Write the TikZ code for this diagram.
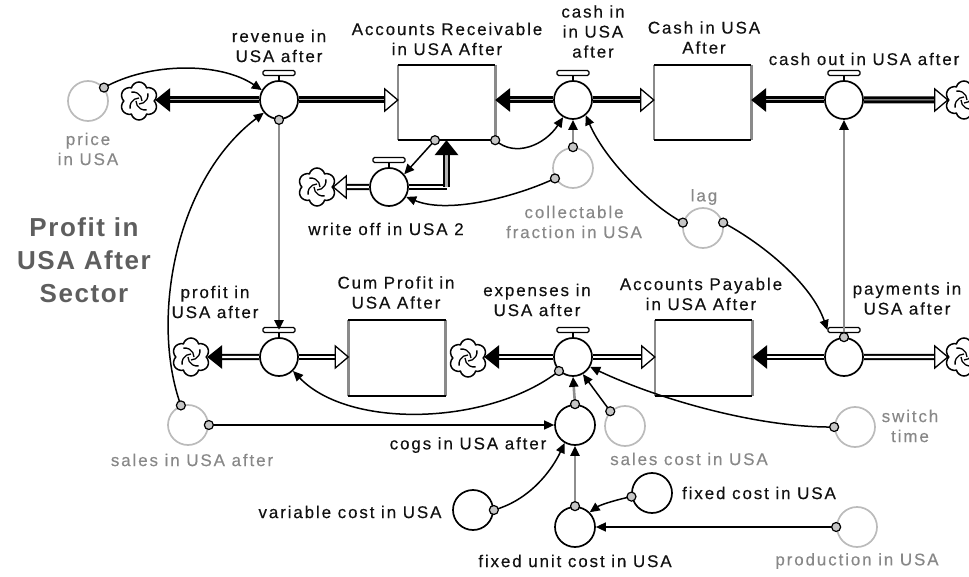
\documentclass[tikz,border=0pt]{standalone}
\usepackage{fontspec}
\setmainfont{Liberation Sans}[LetterSpace=11, FakeBold=0.35]
\newfontfamily\sectorfont{Liberation Sans}[LetterSpace=6]
\usetikzlibrary{shapes.symbols,arrows.meta,calc,backgrounds}

\definecolor{ink}{HTML}{111111}
\definecolor{dimtext}{HTML}{888888}
\definecolor{dimring}{HTML}{BBBBBB}
\definecolor{linkgray}{HTML}{8E8E8E}
\definecolor{stockside}{HTML}{8A8A8A}
\definecolor{sectorgray}{HTML}{5E5E5E}

\tikzset{
  lbl/.style={font=\fontsize{17}{20}\selectfont, text=ink, align=center, inner sep=0pt},
  glbl/.style={lbl, text=dimtext},
  valve/.style={circle, draw=black, line width=1.7pt, fill=white, minimum size=38pt, inner sep=0pt},
  valvebar/.style={rectangle, rounded corners=1.5pt, draw=black, line width=1.3pt, fill=white,
    minimum width=32pt, minimum height=5pt, inner sep=0pt},
  conv/.style={circle, draw=black, line width=1.7pt, fill=white, minimum size=40pt, inner sep=0pt},
  gconv/.style={conv, draw=dimring},
  stock/.style={rectangle, fill=white, minimum width=97pt, minimum height=75pt, inner sep=0pt},
  source/.style={cloud, cloud puffs=6, aspect=1, draw=black, line width=1.5pt, fill=white,
    minimum width=38pt, minimum height=38pt, inner sep=0pt,
    path picture={
      \foreach \a in {0,90,180,270}
        \draw[line width=1.3pt] ([shift={(\a:3pt)}]path picture bounding box.center)
          arc[start angle=\a, end angle=\a+100, radius=9pt];
    }},
  hpipe/.style={draw=black, line width=3pt, double=gray!55, double distance=1pt},
  lpipe/.style={draw=black, line width=2pt, double=white, double distance=2.2pt},
  link/.style={draw=black, line width=1.5pt, -{Triangle[length=10pt,width=9pt]}},
  glink/.style={draw=linkgray, line width=2.6pt, -{Triangle[length=10pt,width=9pt,color=black]}},
  tail/.style={circle, draw=black, line width=1.2pt, fill=gray!45, minimum size=9pt, inner sep=0pt},
  fullhead/.pic={\fill[black] (0,0) -- (-15,12) -- (-15,-12) -- cycle;},
  openhead/.pic={\filldraw[fill=white, draw=black, line width=1.3pt, line join=miter]
    (0,0) -- (-13,11) -- (-13,-11) -- cycle;},
}

\begin{document}
\begin{tikzpicture}[x=1pt,y=-1pt]
\useasboundingbox (0,0) rectangle (969,577);

% ---------- stocks ----------
\node[stock] (AR)   at (446.5,102.5) {};
\node[stock] (Cash) at (702.5,102.5) {};
\node[stock] (Cum)  at (397,358) {};
\node[stock] (AP)   at (703.5,358) {};
\foreach \s in {AR,Cash,Cum,AP}{
  \draw[stockside, line width=2.6pt] (\s.north west) -- (\s.south west);
  \draw[stockside, line width=2.6pt] (\s.north east) -- (\s.south east);
  \draw[black, line width=2pt] (\s.north west) -- (\s.north east);
  \draw[black, line width=2pt] (\s.south west) -- (\s.south east);
}

% ---------- flow valves ----------
\node[valve] (rev)  at (279,100) {};
\node[valve] (cin)  at (573,100) {};
\node[valve] (cout) at (844,100) {};
\node[valve] (wo)   at (389,187) {};
\node[valve] (prof) at (279,357) {};
\node[valve] (exp)  at (573,357) {};
\node[valve] (pay)  at (844,357) {};
\foreach \v in {rev,cin,cout,wo,prof,exp,pay}{
  \draw[line width=1.3pt] (\v.north) -- ++(0,-5);
  \node[valvebar, anchor=south] (bar-\v) at ([yshift=4pt]\v.north) {};
}

% ---------- sources and sinks ----------
\node[source] (c1) at (139,101) {};
\node[source] (c2) at (964,100) {};
\node[source] (c3) at (317,187) {};
\node[source] (c4) at (191,357) {};
\node[source] (c5) at (468,358) {};
\node[source] (c6) at (964,357) {};

% ---------- converters ----------
\node[gconv] (price)     at (88,101)  {};
\node[gconv] (coll)      at (573,168) {};
\node[gconv] (lag)       at (703,228) {};
\node[gconv] (sales)     at (188,425) {};
\node[conv]  (cogs)      at (575,425) {};
\node[gconv] (salescost) at (625,426) {};
\node[gconv] (switch)    at (855,427) {};
\node[conv]  (varc)      at (473,510) {};
\node[conv]  (fixc)      at (652,493) {};
\node[conv]  (fuc)       at (575,527) {};
\node[gconv] (prod)      at (857,527) {};

% ---------- pipes ----------
\begin{scope}[on background layer]
  \draw[hpipe, shorten >=12pt] (rev.west) -- (rev.west -| c1.east);
  \draw[hpipe, shorten >=10pt] (rev.east) -- (rev.east -| AR.west);
  \draw[hpipe, shorten >=12pt] (cin.west) -- (cin.west -| AR.east);
  \draw[hpipe, shorten >=10pt] (cin.east) -- (cin.east -| Cash.west);
  \draw[hpipe, shorten >=12pt] (cout.west) -- (cout.west -| Cash.east);
  \draw[hpipe, shorten >=10pt] (cout.east) -- (c2.west);
  \draw[lpipe, shorten >=10pt] (wo.west) -- (c3.east);
  \draw[lpipe] (wo.east) -- (wo.east -| AR.south);
  \draw[draw=black, line width=2pt, double=gray!60, double distance=2.2pt, shorten >=12pt]
    (wo.east -| AR.south) -- (AR.south);
  \draw[lpipe, shorten >=12pt] (prof.west) -- (c4.east);
  \draw[lpipe, shorten >=10pt] (prof.east) -- (prof.east -| Cum.west);
  \draw[lpipe, shorten >=12pt] (exp.west) -- (exp.west -| c5.east);
  \draw[lpipe, shorten >=10pt] (exp.east) -- (exp.east -| AP.west);
  \draw[lpipe, shorten >=12pt] (pay.west) -- (pay.west -| AP.east);
  \draw[lpipe, shorten >=10pt] (pay.east) -- (c6.west);
\end{scope}

% ---------- flow arrowheads ----------
\pic[rotate=180] at (rev.west -| c1.east) {fullhead};
\pic at (rev.east -| AR.west) {openhead};
\pic[rotate=180] at (cin.west -| AR.east) {fullhead};
\pic at (cin.east -| Cash.west) {openhead};
\pic[rotate=180] at (cout.west -| Cash.east) {fullhead};
\pic at (c2.west) {openhead};
\pic[rotate=180] at (c3.east) {openhead};
\pic[rotate=90] at (AR.south) {fullhead};
\pic[rotate=180] at (c4.east) {fullhead};
\pic at (prof.east -| Cum.west) {openhead};
\pic[rotate=180] at (exp.west -| c5.east) {fullhead};
\pic at (exp.east -| AP.west) {openhead};
\pic[rotate=180] at (pay.west -| AP.east) {fullhead};
\pic at (c6.west) {openhead};

% ---------- connectors ----------
\draw[link] (price.40) .. controls (150,62) and (220,62) .. (rev.150);
\draw[link] (sales.110) .. controls (150,320) and (175,180) .. (rev.220);
\draw[glink] (rev.south) -- (bar-prof.center);
\draw[link] (AR.-107) -- (wo.40);
\draw[link] (coll.210) .. controls (520,195) and (450,215) .. (wo.330);
\draw[link] (AR.south east) .. controls (515,158) and (545,145) .. (cin.240);
\draw[glink] (coll.north) -- (cin.south);
\draw[link] (lag.165) .. controls (650,205) and (605,160) .. (cin.310);
\draw[link] (lag.15) .. controls (765,245) and (812,285) .. (bar-pay.west);
\draw[glink] (pay.north) -- (cout.south);
\draw[link] (exp.225) .. controls (490,425) and (350,430) .. (prof.315);
\draw[link] (sales.east) -- (cogs.west);
\draw[glink] (cogs.north) -- (exp.south);
\draw[link] (salescost.135) -- (exp.300);
\draw[link] (switch.west) .. controls (760,428) and (660,400) .. (exp.330);
\draw[link] (varc.east) .. controls (530,500) and (552,470) .. (cogs.240);
\draw[glink] (fuc.north) -- (cogs.south);
\draw[link] (fixc.190) .. controls (615,500) and (600,505) .. (fuc.45);
\draw[link] (prod.west) -- (fuc.east);

\foreach \p in {price.40, sales.110, rev.south, AR.-107, coll.210, AR.south east,
  coll.north, lag.165, lag.15, pay.north, exp.225, sales.east, cogs.north,
  salescost.135, switch.west, varc.east, fuc.north, fixc.190, prod.west}
  \node[tail] at (\p) {};

% ---------- labels ----------
\node[lbl]  (revL)   at (279,46)   {revenue in\\USA after};
\node[lbl]  (ARL)    at (447,39)   {Accounts Receivable\\in USA After};
\node[lbl]  (cinL)   at (593,31.5) {cash in\\in USA\\after};
\node[lbl]  (cashL)  at (704,37.5) {Cash in USA\\After};
\node[lbl]  (coutL)  at (864,59)   {cash out in USA after};
\node[glbl] (priceL) at (88,149)   {price\\in USA};
\node[lbl]  (woL)    at (386,229)  {write off in USA 2};
\node[glbl] (collL)  at (574,222)  {collectable\\fraction in USA};
\node[glbl] (lagL)   at (704,197)  {lag};
\node[font=\sectorfont\bfseries\fontsize{26}{33}\selectfont, text=sectorgray, align=center,
      inner sep=0pt] (sector) at (84,260) {Profit in\\USA After\\Sector};
\node[lbl]  (profL)  at (215,302)  {profit in\\USA after};
\node[lbl]  (cumL)   at (396,292.5){Cum Profit in\\USA After};
\node[lbl]  (expL)   at (537,300)  {expenses in\\USA after};
\node[lbl]  (APL)    at (701,294)  {Accounts Payable\\in USA After};
\node[lbl]  (payL)   at (907,298.5){payments in\\USA after};
\node[glbl] (salesL) at (192,460)  {sales in USA after};
\node[lbl]  (cogsL)  at (468,445)  {cogs in USA after};
\node[glbl] (scL)    at (689,459)  {sales cost in USA};
\node[glbl] (swL)    at (910,426)  {switch\\time};
\node[lbl]  (varL)   at (350,512)  {variable cost in USA};
\node[lbl]  (fixcL)  at (759,493)  {fixed cost in USA};
\node[lbl]  (fucL)   at (575,561)  {fixed unit cost in USA};
\node[glbl] (prodL)  at (857,561)  {production in USA};
\end{tikzpicture}
\end{document}
